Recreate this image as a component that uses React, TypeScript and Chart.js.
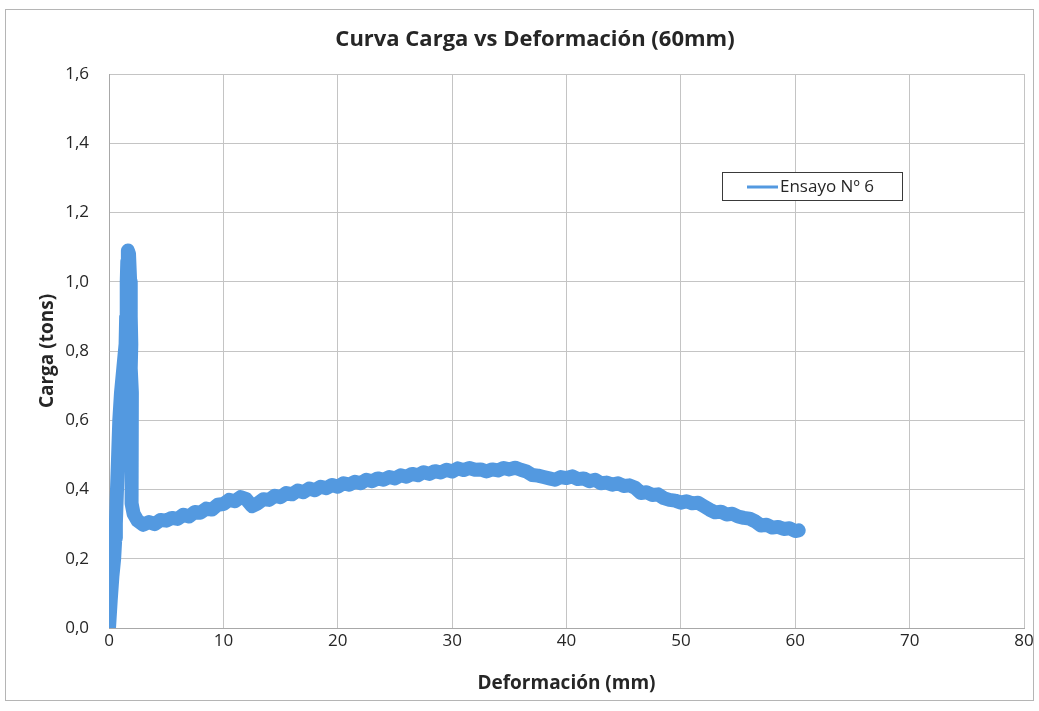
import React, { useEffect, useRef } from "react";
import { Chart, registerables } from "chart.js";

Chart.register(...registerables);

const FONT = "'Open Sans', 'Noto Sans', sans-serif";

const chartTitle = "Curva Carga vs Deformación (60mm)";
const xAxisTitle = "Deformación (mm)";
const yAxisTitle = "Carga (tons)";
const seriesName = "Ensayo Nº 6";

const xMin = 0;
const xMax = 80;
const xStep = 10;
const yMin = 0;
const yMax = 1.6;
const yStep = 0.2;

// Deformación (mm)
const deformacion = [
  0, 0.15, 0.3, 0.45, 0.55, 0.6, 0.7, 0.8, 0.9, 1.05, 1.25, 1.45, 1.5, 1.55, 1.6, 1.65, 1.75,
  1.85, 1.9, 1.95, 1.9, 2.0, 1.95, 2.0, 1.95, 2.0, 2.15, 2.5,
  3.0, 3.5, 4.0, 4.5, 5.0, 5.5, 6.0, 6.5, 7.0, 7.5, 8.0, 8.5, 9.0, 9.5, 10.0, 10.5, 11.0, 11.5, 12.0, 12.5,
  13.0, 13.5, 14.0, 14.5, 15.0, 15.5, 16.0, 16.5, 17.0, 17.5, 18.0, 18.5, 19.0, 19.5, 20.0, 20.5, 21.0, 21.5,
  22.0, 22.5, 23.0, 23.5, 24.0, 24.5, 25.0, 25.5, 26.0, 26.5, 27.0, 27.5, 28.0, 28.5, 29.0, 29.5, 30.0, 30.5,
  31.0, 31.5, 32.0, 32.5, 33.0, 33.5, 34.0, 34.5, 35.0, 35.5, 36.0, 36.5, 37.0, 37.5, 38.0, 38.5, 39.0, 39.5,
  40.0, 40.5, 41.0, 41.5, 42.0, 42.5, 43.0, 43.5, 44.0, 44.5, 45.0, 45.5, 46.0, 46.5, 47.0, 47.5, 48.0, 48.5,
  49.0, 49.5, 50.0, 50.5, 51.0, 51.5, 52.0, 52.5, 53.0, 53.5, 54.0, 54.5, 55.0, 55.5, 56.0, 56.5, 57.0, 57.5,
  58.0, 58.5, 59.0, 59.5, 60.0, 60.3,
];

// Carga (tons)
const carga = [
  0, 0.08, 0.15, 0.2, 0.26, 0.3, 0.4, 0.5, 0.6, 0.68, 0.75, 0.82, 0.9, 1.0, 1.06, 1.09, 1.08,
  1.0, 0.9, 0.82, 0.75, 0.68, 0.6, 0.5, 0.42, 0.36, 0.33, 0.31,
  0.298, 0.306, 0.3, 0.312, 0.31, 0.318, 0.315, 0.327, 0.322, 0.335, 0.333, 0.345, 0.342, 0.356, 0.358, 0.37, 0.366, 0.378, 0.372, 0.352,
  0.36, 0.372, 0.37, 0.382, 0.378, 0.39, 0.386, 0.397, 0.392, 0.403, 0.398, 0.408, 0.404, 0.413, 0.408, 0.418, 0.414, 0.422,
  0.418, 0.428, 0.424, 0.432, 0.428, 0.436, 0.432, 0.441, 0.437, 0.445, 0.441, 0.45, 0.445, 0.453, 0.449, 0.457, 0.452, 0.461,
  0.456, 0.462, 0.457, 0.458, 0.452, 0.458, 0.455, 0.462, 0.458, 0.463, 0.457, 0.452, 0.442, 0.44, 0.436, 0.432, 0.428, 0.436,
  0.433, 0.438, 0.43, 0.432, 0.424, 0.428, 0.418, 0.42, 0.414, 0.418, 0.41, 0.412, 0.405, 0.39, 0.392, 0.384, 0.386, 0.375,
  0.37, 0.368, 0.362, 0.366, 0.36, 0.362, 0.352, 0.342, 0.334, 0.336, 0.328, 0.33, 0.322, 0.318, 0.316, 0.308, 0.296, 0.298,
  0.29, 0.292, 0.286, 0.288, 0.28, 0.282,
];

const LINE_COLOR = "#5399e0";
const TEXT_COLOR = "#262626";
const GRID_COLOR = "#c4c4c4";

const decorPlugin = {
  id: "decor",
  beforeDraw(chart: any) {
    const { ctx, width, height } = chart;
    ctx.save();
    ctx.fillStyle = "#ffffff";
    ctx.fillRect(0, 0, width, height);
    ctx.strokeStyle = "#b5b5b5";
    ctx.lineWidth = 1;
    ctx.strokeRect(5.5, 9.5, width - 11, height - 20);
    ctx.restore();
  },
  afterDraw(chart: any) {
    const { ctx, chartArea } = chart;
    ctx.save();
    // title
    ctx.fillStyle = TEXT_COLOR;
    ctx.font = `bold 22px ${FONT}`;
    ctx.textAlign = "center";
    ctx.textBaseline = "middle";
    ctx.fillText(chartTitle, 535, 40);
    // legend
    const lx = chartArea.left + ((722 - 109) / 915) * (chartArea.right - chartArea.left);
    const ly = 172;
    const lw = 180;
    const lh = 28;
    ctx.fillStyle = "#ffffff";
    ctx.fillRect(lx, ly, lw, lh);
    ctx.strokeStyle = "#3a3a3a";
    ctx.lineWidth = 1;
    ctx.strokeRect(Math.round(lx) + 0.5, ly + 0.5, lw, lh);
    ctx.strokeStyle = LINE_COLOR;
    ctx.lineWidth = 3;
    ctx.beginPath();
    ctx.moveTo(lx + 25, ly + lh / 2 + 1);
    ctx.lineTo(lx + 56, ly + lh / 2 + 1);
    ctx.stroke();
    ctx.fillStyle = TEXT_COLOR;
    ctx.font = `17px ${FONT}`;
    ctx.textAlign = "left";
    ctx.fillText(seriesName, lx + 58, ly + lh / 2 + 1);
    ctx.restore();
  },
};

export default function App() {
  const ref = useRef<HTMLCanvasElement | null>(null);

  useEffect(() => {
    document.body.style.margin = "0";
    const canvas = ref.current;
    if (!canvas) return;
    const points = deformacion.map((x, i) => ({ x, y: carga[i] }));
    const chart = new Chart(canvas, {
      type: "line",
      data: {
        datasets: [
          {
            label: seriesName,
            data: points,
            borderColor: LINE_COLOR,
            backgroundColor: LINE_COLOR,
            borderWidth: 14,
            borderJoinStyle: "round",
            borderCapStyle: "round",
            pointRadius: 0,
            tension: 0,
            fill: false,
          },
        ],
      },
      options: {
        animation: false,
        responsive: false,
        maintainAspectRatio: false,
        parsing: false,
        layout: { padding: { top: 74, right: 15, bottom: 16, left: 0 } },
        plugins: {
          legend: { display: false },
          title: { display: false },
          tooltip: { enabled: false },
        },
        scales: {
          x: {
            type: "linear",
            min: xMin,
            max: xMax,
            ticks: {
              stepSize: xStep,
              color: TEXT_COLOR,
              font: { family: FONT, size: 17 },
              padding: 3,
              maxRotation: 0,
            },
            grid: { color: GRID_COLOR, drawTicks: false },
            border: { color: "#a8a8a8" },
            title: {
              display: true,
              text: xAxisTitle,
              color: TEXT_COLOR,
              font: { family: FONT, size: 19, weight: "bold" },
              padding: { top: 0, bottom: 0 },
            },
            afterFit(scale: any) {
              scale.height = 67;
            },
          },
          y: {
            type: "linear",
            min: yMin,
            max: yMax,
            ticks: {
              stepSize: yStep,
              color: TEXT_COLOR,
              font: { family: FONT, size: 17 },
              padding: 20,
              callback: (v: any) => Number(v).toFixed(1).replace(".", ","),
            },
            grid: { color: GRID_COLOR, drawTicks: false },
            border: { color: "#a8a8a8" },
            title: {
              display: true,
              text: yAxisTitle,
              color: TEXT_COLOR,
              font: { family: FONT, size: 19, weight: "bold" },
              padding: { top: 36, bottom: 0 },
            },
            afterFit(scale: any) {
              scale.width = 109;
            },
          },
        },
      },
      plugins: [decorPlugin],
    });
    return () => chart.destroy();
  }, []);

  return (
    <div style={{ width: 1039, height: 711 }}>
      <canvas ref={ref} width={1039} height={711} style={{ display: "block" }} />
    </div>
  );
}
